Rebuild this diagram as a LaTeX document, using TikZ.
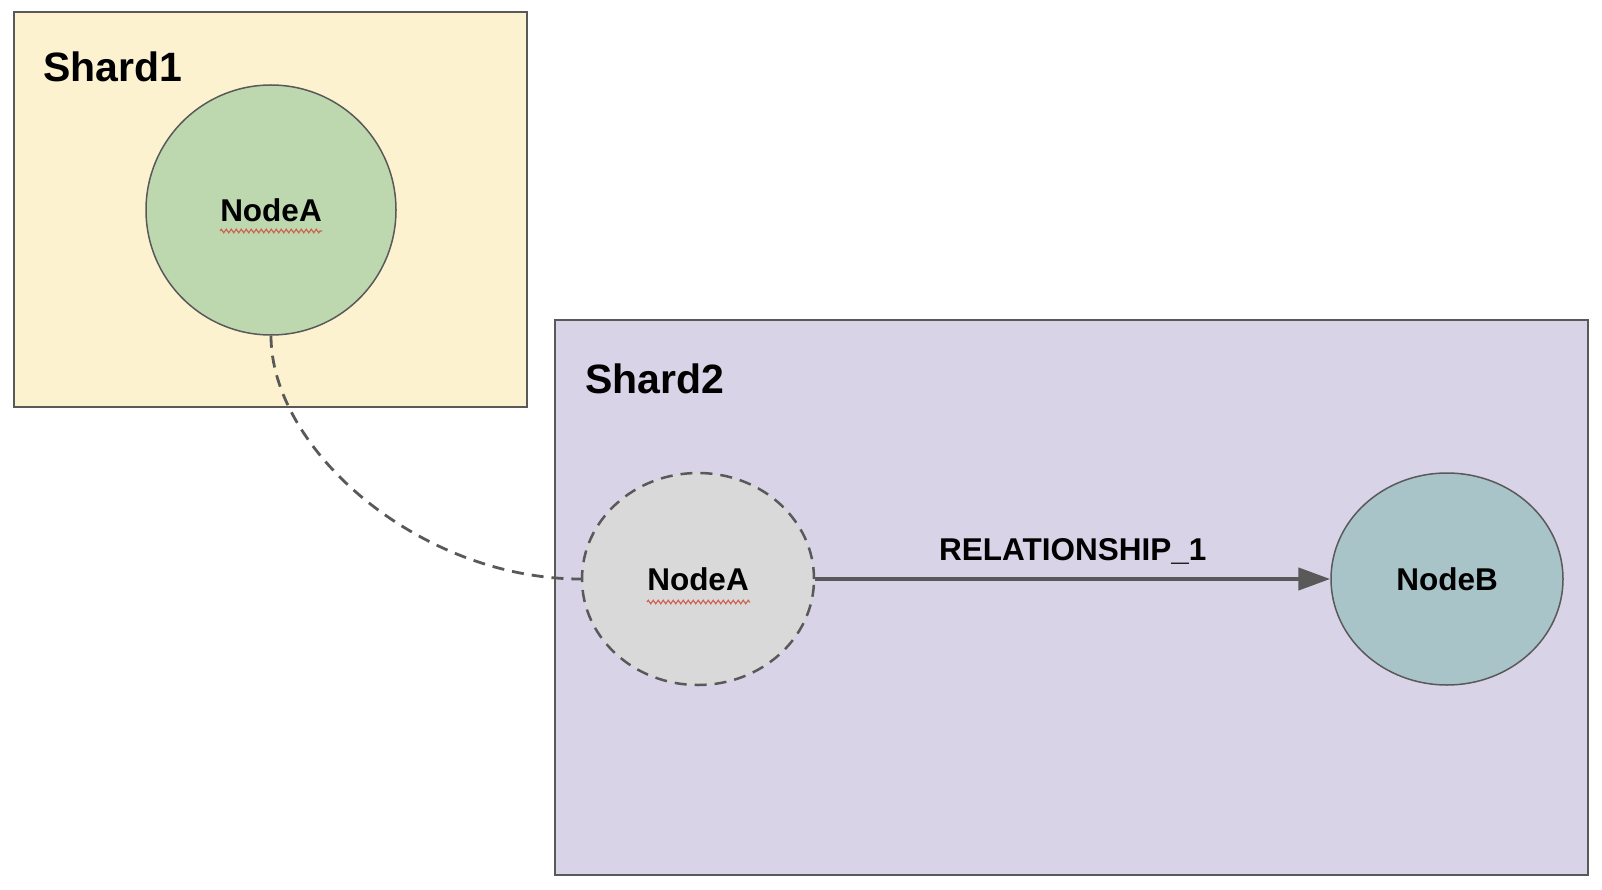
\documentclass[tikz,border=0pt]{standalone}
\usepackage{fontspec}
\setmainfont{Liberation Sans}
\usetikzlibrary{shapes.geometric,arrows.meta,decorations.pathmorphing}
\definecolor{shardone}{HTML}{FDF2D0}
\definecolor{shardtwo}{HTML}{D9D3E8}
\definecolor{greennode}{HTML}{BDD7AE}
\definecolor{graynode}{HTML}{D9D9D9}
\definecolor{bluenode}{HTML}{A9C4C8}
\definecolor{edge}{HTML}{595959}
\definecolor{squiggle}{HTML}{D0604F}
\begin{document}
\begin{tikzpicture}[x=1pt,y=-1pt,
  shardbox/.style={draw=edge,line width=1.5pt,inner sep=0pt},
  shardlabel/.style={anchor=west,font=\bfseries\fontsize{41}{41}\selectfont,inner sep=0pt},
  gnode/.style={ellipse,draw=edge,line width=1.5pt,inner sep=0pt,font=\bfseries\fontsize{31.5}{31.5}\selectfont},
  spell/.style={draw=squiggle,line width=1.1pt,decorate,decoration={zigzag,amplitude=1.8pt,segment length=5pt}}]
\useasboundingbox (0,0) rectangle (1602,890);
\fill[white] (0,0) rectangle (1602,890);
% shard boxes
\draw[shardbox,fill=shardone] (14,12) rectangle (527,407);
\draw[shardbox,fill=shardtwo] (555,320) rectangle (1588,875);
\node[shardlabel] (s1) at (43,67) {Shard1};
\node[shardlabel] (s2) at (585,379) {Shard2};
% nodes
\node[gnode,fill=greennode,minimum width=250pt,minimum height=250pt] (a1) at (271,210) {NodeA};
\node[gnode,fill=graynode,minimum width=232pt,minimum height=212pt,dash pattern=on 12pt off 8pt,line width=2.5pt] (a2) at (698,579) {NodeA};
\node[gnode,fill=bluenode,minimum width=232pt,minimum height=212pt] (b) at (1447,579) {NodeB};
% spell-check squiggles
\coordinate (q1a) at (220,231); \coordinate (q1b) at (322,231);
\coordinate (q2a) at (647,602); \coordinate (q2b) at (750,602);
\draw[spell] (q1a) -- (q1b);
\draw[spell] (q2a) -- (q2b);
% connectors
\draw[edge,line width=2.8pt,dash pattern=on 12pt off 8pt] (a1.south) .. controls (271,450) and (420,579) .. (a2.west);
\draw[edge,line width=4.5pt,-{Triangle[length=32pt,width=22pt]}] (a2.east) -- (b.west)
  node[midway,above=12pt,text=black,font=\bfseries\fontsize{31.5}{31.5}\selectfont,inner sep=0pt] (rel) {RELATIONSHIP\_1};
\end{tikzpicture}
\end{document}
